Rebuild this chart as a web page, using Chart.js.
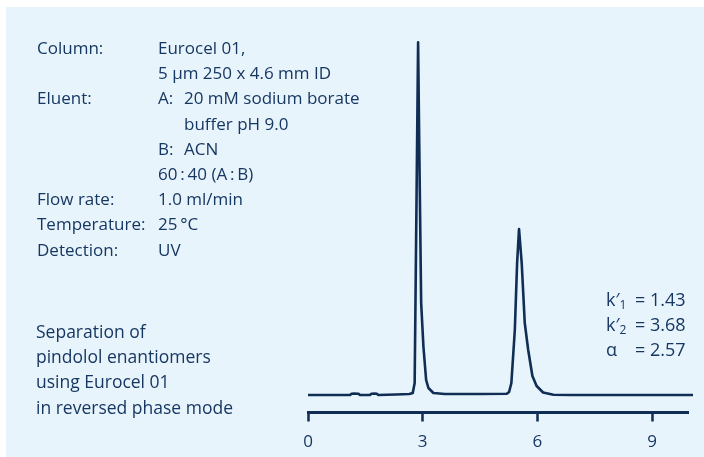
<!DOCTYPE html>
<html>
<head>
<meta charset="utf-8">
<script src="https://cdn.jsdelivr.net/npm/chart.js@4/dist/chart.umd.min.js"></script>
<style>
  html, body { margin: 0; padding: 0; background: #fff; }
  body { width: 704px; height: 457px; position: relative; overflow: hidden; }
  #panel { position: absolute; left: 6px; top: 7px; right: 0; bottom: 0; background: #e8f4fb; }
  #chart { position: absolute; left: 0; top: 0; }
  .txt { position: absolute; font-family: 'Open Sans', sans-serif; font-size: 17px; line-height: 25.2px; color: #173763; white-space: nowrap; }
  .row { display: flex; }
  .lbl { width: 121px; }
  .ind { padding-left: 26px; }
  .ab { display: inline-block; width: 26px; }
  sub { font-size: 12px; vertical-align: -3px; line-height: 0; }
</style>
</head>
<body>
<div id="panel"></div>
<canvas id="chart" width="704" height="457"></canvas>

<div class="txt" style="left:37px; top:35px;">
  <div class="row"><span class="lbl">Column:</span><span>Eurocel 01,</span></div>
  <div class="row"><span class="lbl"></span><span>5 µm 250 x 4.6 mm ID</span></div>
  <div class="row"><span class="lbl">Eluent:</span><span><span class="ab">A:</span>20 mM sodium borate</span></div>
  <div class="row"><span class="lbl"></span><span class="ind">buffer pH 9.0</span></div>
  <div class="row"><span class="lbl"></span><span><span class="ab">B:</span>ACN</span></div>
  <div class="row"><span class="lbl"></span><span>60&#8201;:&#8201;40 (A&#8201;:&#8201;B)</span></div>
  <div class="row"><span class="lbl">Flow rate:</span><span>1.0 ml/min</span></div>
  <div class="row"><span class="lbl">Temperature:</span><span>25&#8201;°C</span></div>
  <div class="row"><span class="lbl">Detection:</span><span>UV</span></div>
</div>

<div class="txt" style="left:36px; top:319px; font-size:17.5px;">
  <div>Separation of</div>
  <div>pindolol enantiomers</div>
  <div>using Eurocel 01</div>
  <div>in reversed phase mode</div>
</div>

<div class="txt" style="left:606px; top:287px; font-size:18px;">
  <div class="row"><span style="width:29px">k′<sub>1</sub></span><span>= 1.43</span></div>
  <div class="row"><span style="width:29px">k′<sub>2</sub></span><span>= 3.68</span></div>
  <div class="row"><span style="width:29px">α</span><span>= 2.57</span></div>
</div>

<script>
// retention time (min) and detector signal
const times = [0, 1.10, 1.14, 1.20, 1.32, 1.36, 1.62, 1.66, 1.74, 1.80, 1.84, 2.30, 2.65, 2.74, 2.79, 2.84, 2.88,
  2.91, 2.96, 3.02, 3.09, 3.15, 3.28, 3.58, 4.50, 5.20, 5.26, 5.32, 5.41, 5.47, 5.52,
  5.59, 5.67, 5.76, 5.87, 5.98, 6.15, 6.42, 6.87, 8.50, 10.07];
const signal = [0, 0, 1.3, 1.4, 1.3, 0, 0, 1.3, 1.4, 1.3, 0, 0.5, 1, 2, 12, 200, 352.6,
  250, 92, 48, 15, 7, 2, 1, 1, 1.2, 3, 12, 65, 132, 166,
  132, 72, 45, 19, 9, 2.5, 0.3, 0, 0, 0];
const tickValues = [0, 3, 6, 9];

const navy = '#0f2d55';
const textNavy = '#173763';

new Chart(document.getElementById('chart'), {
  type: 'line',
  data: {
    datasets: [{
      data: times.map((t, i) => ({ x: t, y: signal[i] })),
      borderColor: navy,
      borderWidth: 2.6,
      pointRadius: 0,
      tension: 0,
      borderJoinStyle: 'round',
      clip: false
    }]
  },
  options: {
    responsive: false,
    animation: false,
    events: [],
    layout: { padding: { left: 308, right: 16, top: 30, bottom: 0 } },
    plugins: { legend: { display: false }, tooltip: { enabled: false } },
    scales: {
      x: {
        type: 'linear', min: 0, max: 9.94,
        afterFit: s => { s.height = 44.5; },
        afterBuildTicks: s => { s.ticks = tickValues.map(v => ({ value: v })); },
        border: { display: true, color: navy, width: 3 },
        grid: { display: true, drawOnChartArea: false, drawTicks: true, tickLength: 9, tickWidth: 2.5, tickColor: navy },
        ticks: { color: textNavy, font: { family: 'Open Sans', size: 17 }, padding: 10, maxRotation: 0 }
      },
      y: { type: 'linear', display: false, min: -17.5, max: 365 }
    }
  }
});
</script>
</body>
</html>
